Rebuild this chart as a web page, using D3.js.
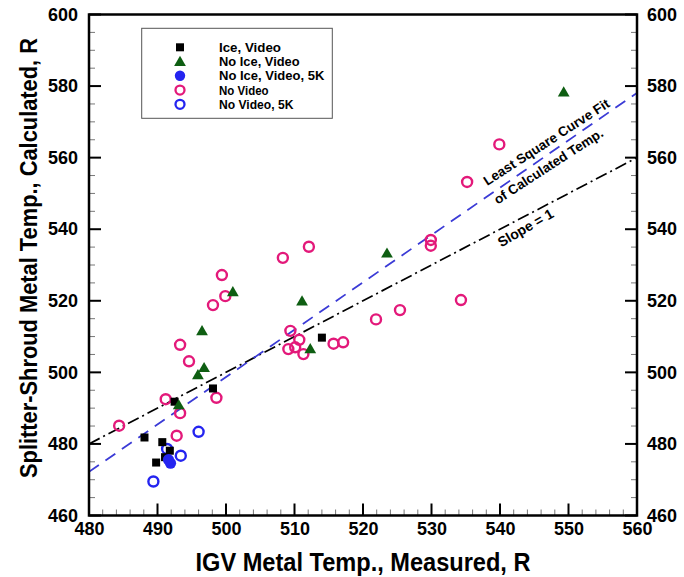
<!DOCTYPE html>
<html><head><meta charset="utf-8">
<script src="https://cdn.jsdelivr.net/npm/d3@7"></script>
<style>body{margin:0;background:#fff}svg{display:block;font-family:"Liberation Sans",Arial,sans-serif}</style>
</head><body><svg id="c" width="684" height="577"></svg>
<script>
const xTicks = [480,490,500,510,520,530,540,550,560];
const yTicks = [460,480,500,520,540,560,580,600];
const seriesNames = ["Ice, Video","No Ice, Video","No Ice, Video, 5K","No Video","No Video, 5K"];
const iceVideo = [[488.1,481.8],[490.7,480.5],[489.8,474.8],[491.1,476.3],[491.8,478.1],[492.5,491.8],[498.1,495.5],[514.0,509.7]];
const noIceVideo = [[496.5,511.6],[496.8,501.3],[495.9,499.3],[493.1,490.9],[501.0,522.5],[511.1,519.9],[512.3,506.6],[523.5,533.3],[549.3,578.3]];
const noIceVideo5K = [[491.9,474.6],[491.6,475.6]];
const noVideo = [[484.4,485.1],[498.1,518.8],[499.9,521.3],[499.4,527.2],[493.3,507.7],[494.6,503.1],[491.2,492.5],[493.3,488.6],[498.6,492.9],[492.8,482.3],[508.3,532.0],[512.1,535.1],[509.4,511.6],[510.7,509.1],[509.1,506.5],[510.1,507.0],[511.3,505.1],[515.7,508.0],[517.1,508.4],[521.9,514.8],[525.4,517.4],[529.9,537.0],[529.9,535.4],[534.3,520.2],[535.2,553.2],[539.9,563.7]];
const noVideo5K = [[496.0,483.4],[491.4,478.6],[493.4,476.7],[489.4,469.5]];
const slopeOneLine = [[480,480],[560,560]];
const fitLine = [[480,472.2],[560,578.1]];

const svg = d3.select("#c");
const L=89,R=637,T=14.5,B=515.5;
const x = d3.scaleLinear().domain([480,560]).range([L,R]);
const y = d3.scaleLinear().domain([460,600]).range([B,T]);
const C = {black:"#000",green:"#0e5e12",blue:"#2424f0",pink:"#e3197a",dash:"#3b3bd6"};

const defs = svg.append("defs");
defs.append("clipPath").attr("id","clip").append("rect").attr("x",L).attr("y",T).attr("width",R-L).attr("height",B-T);

const g = svg.append("g");
const xMinor = d3.range(480,561,2), yMinor = d3.range(460,601,5);
xMinor.forEach(v=>{const maj=v%10===0; g.append("line").attr("x1",x(v)).attr("x2",x(v)).attr("y1",B).attr("y2",B-(maj?12:6)).attr("stroke",maj?"#000":"#777").attr("stroke-width",maj?2:1);});
yMinor.forEach(v=>{const maj=v%20===0; 
  g.append("line").attr("x1",L).attr("x2",L+(maj?12:6)).attr("y1",y(v)).attr("y2",y(v)).attr("stroke",maj?"#000":"#777").attr("stroke-width",maj?2:1);
  g.append("line").attr("x1",R).attr("x2",R-(maj?12:6)).attr("y1",y(v)).attr("y2",y(v)).attr("stroke",maj?"#000":"#777").attr("stroke-width",maj?2:1);
});

const ax = svg.append("g").attr("transform",`translate(0,${B})`).call(d3.axisBottom(x).tickValues(xTicks).tickSize(0).tickPadding(7));
const ayl = svg.append("g").attr("transform",`translate(${L},0)`).call(d3.axisLeft(y).tickValues(yTicks).tickSize(0).tickPadding(11));
const ayr = svg.append("g").attr("transform",`translate(${R},0)`).call(d3.axisRight(y).tickValues(yTicks).tickSize(0).tickPadding(10));
[ax,ayl,ayr].forEach(a=>{a.select(".domain").remove(); a.selectAll("text").attr("font-size",18).attr("font-weight","bold").attr("fill","#000").attr("font-family","Liberation Sans, Arial, sans-serif").attr("textLength",30).attr("lengthAdjust","spacingAndGlyphs");});

const line = d3.line().x(d=>x(d[0])).y(d=>y(d[1]));
const pl = svg.append("g").attr("clip-path","url(#clip)");
pl.append("path").datum(slopeOneLine).attr("d",line).attr("fill","none").attr("stroke","#000").attr("stroke-width",1.7).attr("stroke-dasharray","12,4,2,4");
pl.append("path").datum(fitLine).attr("d",line).attr("fill","none").attr("stroke",C.dash).attr("stroke-width",1.8).attr("stroke-dasharray","12,8");

const mk = svg.append("g");
mk.selectAll(".nv").data(noVideo).join("circle").attr("cx",d=>x(d[0])).attr("cy",d=>y(d[1])).attr("r",5).attr("fill","none").attr("stroke",C.pink).attr("stroke-width",2.4);
mk.selectAll(".nv5").data(noVideo5K).join("circle").attr("cx",d=>x(d[0])).attr("cy",d=>y(d[1])).attr("r",5).attr("fill","none").attr("stroke",C.blue).attr("stroke-width",2.4);
mk.selectAll(".iv").data(iceVideo).join("rect").attr("x",d=>x(d[0])-4).attr("y",d=>y(d[1])-4).attr("width",8).attr("height",8).attr("fill",C.black);
const tri = d3.symbol().type(d3.symbolTriangle).size(60);
mk.selectAll(".niv").data(noIceVideo).join("path").attr("d",tri).attr("transform",d=>`translate(${x(d[0])},${y(d[1])+1})`).attr("fill",C.green);
mk.selectAll(".niv5").data(noIceVideo5K).join("circle").attr("cx",d=>x(d[0])).attr("cy",d=>y(d[1])).attr("r",5.6).attr("fill",C.blue);

svg.append("rect").attr("x",L).attr("y",T).attr("width",R-L).attr("height",B-T).attr("fill","none").attr("stroke","#000").attr("stroke-width",2.5);

const ann = svg.append("g").attr("font-weight","bold").attr("text-anchor","middle").attr("fill","#000");
ann.append("text").attr("font-size",13.5).attr("transform","translate(549,146) rotate(-33)").text("Least Square Curve Fit");
ann.append("text").attr("font-size",13.5).attr("transform","translate(551,170) rotate(-33)").text("of Calculated Temp.");
ann.append("text").attr("font-size",14).attr("transform","translate(528,232) rotate(-30)").text("Slope = 1");

const lg = svg.append("g");
lg.append("rect").attr("x",141.7).attr("y",28.3).attr("width",190.6).attr("height",90).attr("fill","#fff").attr("stroke","#555").attr("stroke-width",1);
seriesNames.forEach((n,i)=>{
  const cy = 47.3 + i*14.25, cx=180;
  if(i===0) lg.append("rect").attr("x",cx-4).attr("y",cy-4).attr("width",8).attr("height",8).attr("fill",C.black);
  if(i===1) lg.append("path").attr("d",tri).attr("transform",`translate(${cx},${cy+1})`).attr("fill",C.green);
  if(i===2) lg.append("circle").attr("cx",cx).attr("cy",cy).attr("r",5.2).attr("fill",C.blue);
  if(i===3) lg.append("circle").attr("cx",cx).attr("cy",cy).attr("r",4.5).attr("fill","none").attr("stroke",C.pink).attr("stroke-width",2.3);
  if(i===4) lg.append("circle").attr("cx",cx).attr("cy",cy).attr("r",4.5).attr("fill","none").attr("stroke",C.blue).attr("stroke-width",2.3);
  lg.append("text").attr("x",219).attr("y",cy+4.5).attr("font-size",13).attr("font-weight","bold").attr("textLength",n.length*6.2).attr("lengthAdjust","spacingAndGlyphs").text(n);
});

svg.append("text").attr("x",363).attr("y",571).attr("text-anchor","middle").attr("font-size",25).attr("font-weight","bold").attr("textLength",335).attr("lengthAdjust","spacingAndGlyphs").text("IGV Metal Temp., Measured, R");
svg.append("text").attr("transform","translate(37,258) rotate(-90)").attr("text-anchor","middle").attr("font-size",23).attr("font-weight","bold").attr("textLength",440).attr("lengthAdjust","spacingAndGlyphs").text("Splitter-Shroud Metal Temp., Calculated, R");
</script></body></html>
